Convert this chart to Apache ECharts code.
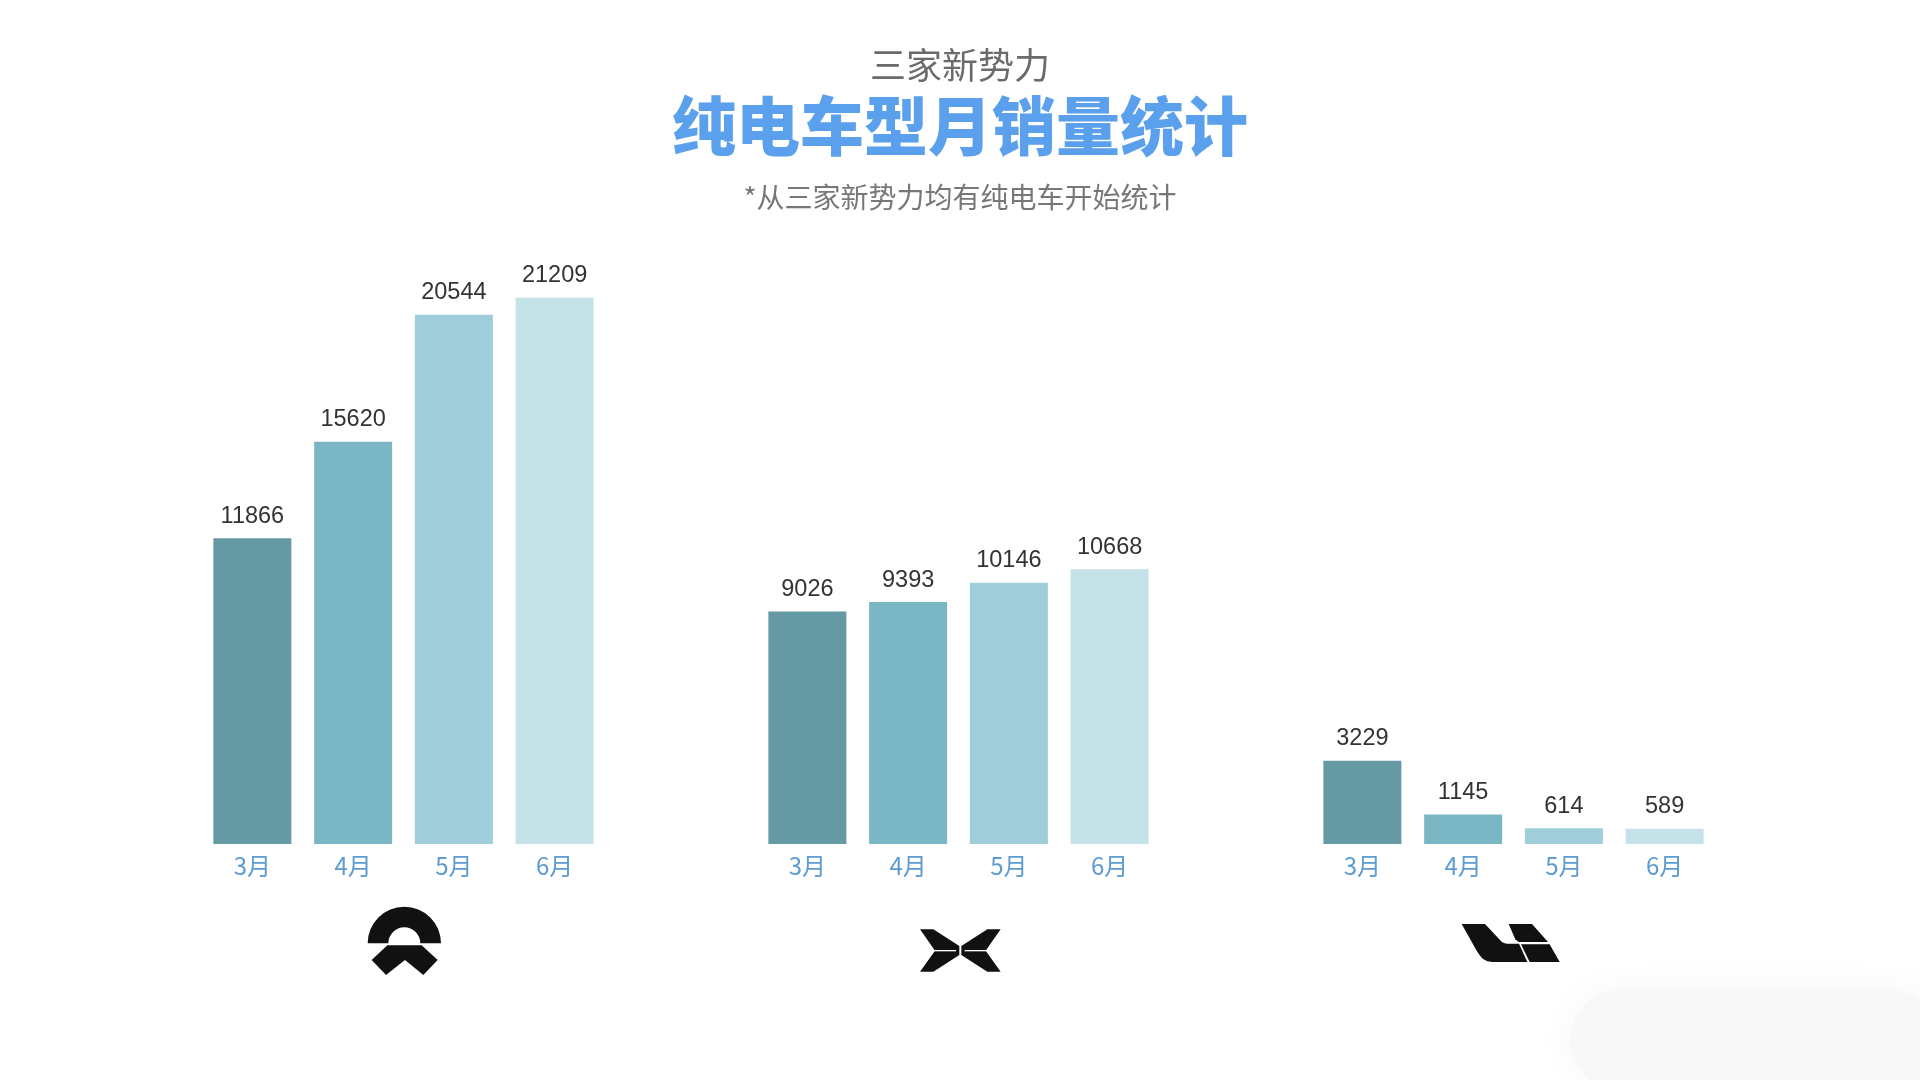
<!DOCTYPE html>
<html>
<head>
<meta charset="utf-8">
<style>
html,body{margin:0;padding:0;background:#fff;}
#c{width:1920px;height:1080px;}
</style>
<script src="https://cdn.jsdelivr.net/npm/echarts@6/dist/echarts.min.js"></script>
</head>
<body>
<div id="c"></div>
<script>
// ---- data ----
const months = ['3月', '4月', '5月', '6月'];
const brands = ['蔚来', '小鹏', '理想'];
const nioSales = [11866, 15620, 20544, 21209];
const xpengSales = [9026, 9393, 10146, 10668];
const liSales = [3229, 1145, 614, 589];
const titleTop = '三家新势力';
const titleMain = '纯电车型月销量统计';
const titleNote = '*从三家新势力均有纯电车开始统计';

const groups = [nioSales, xpengSales, liSales];
const barColors = ['#6599a4', '#7ab6c4', '#9fcdd9', '#c4e2e8'];
const gridLefts = [202, 757, 1312];

const chart = echarts.init(document.getElementById('c'), null, {renderer: 'canvas'});

const grids = gridLefts.map(l => ({left: l, width: 403, top: 200, height: 644}));
const xAxes = groups.map((g, i) => ({
  type: 'category', gridIndex: i, data: months,
  axisLine: {show: false}, axisTick: {show: false},
  axisLabel: {color: '#5d9bd3', fontSize: 24, margin: 10, fontFamily: 'Noto Sans CJK SC'}
}));
const yAxes = groups.map((g, i) => ({
  type: 'value', gridIndex: i, min: 0, max: 25000, show: false, splitLine: {show: false}
}));
const series = groups.map((g, i) => ({
  type: 'bar', name: brands[i], xAxisIndex: i, yAxisIndex: i,
  data: g.map((v, j) => ({value: v, itemStyle: {color: barColors[j]}})),
  barWidth: 78,
  label: {show: true, position: 'top', distance: 10, color: '#333', fontSize: 23.5,
          fontFamily: 'Liberation Sans, Arial'}
}));

// logos (decorative shapes), drawn in a 3x local frame
const nioLogo = {
  type: 'group', x: 340, y: 880, scaleX: 1/3, scaleY: 1/3,
  children: [
    {type: 'sector', shape: {cx: 193, cy: 190, r0: 48, r: 110, startAngle: Math.PI, endAngle: 2 * Math.PI, clockwise: true},
     style: {fill: '#111'}},
    {type: 'polygon', shape: {points: [[142,196],[95,240],[138,285],[195,240],[250,285],[293,240],[245,196]]},
     style: {fill: '#111'}}
  ]
};
const xLeft = [[60,88],[100,88],[178,138],[178,165],[100,215],[60,215],[105,152]];
const xRight = xLeft.map(p => [362 - p[0], p[1]]);
const xpengLogo = {
  type: 'group', x: 900, y: 900, scaleX: 1/3, scaleY: 1/3,
  children: [
    {type: 'polygon', shape: {points: xLeft}, style: {fill: '#111'}},
    {type: 'polygon', shape: {points: xRight}, style: {fill: '#111'}},
    {type: 'line', shape: {x1: 103, y1: 152, x2: 168, y2: 152}, style: {stroke: '#fff', lineWidth: 4}},
    {type: 'line', shape: {x1: 259, y1: 152, x2: 194, y2: 152}, style: {stroke: '#fff', lineWidth: 4}}
  ]
};
const liL = [[35,72],[105,72],[150,120],[156,126],[164,130],[172,131],[207,131],[232,186],[128,186],[112,184],[98,176],[88,164],[80,152]];
const liUp = [[176,72],[246,72],[294,126],[206,126],[196,118]];
const liLow = [[213,133],[299,133],[329,186],[239,186]];
const liLogo = {
  type: 'group', x: 1450, y: 900, scaleX: 1/3, scaleY: 1/3,
  children: [
    {type: 'polygon', shape: {points: liL}, style: {fill: '#111'}},
    {type: 'polygon', shape: {points: liUp}, style: {fill: '#111'}},
    {type: 'polygon', shape: {points: liLow}, style: {fill: '#111'}}
  ]
};

const option = {
  backgroundColor: '#ffffff',
  animation: false,
  title: [
    {text: titleTop, left: 'center', top: 42,
     textStyle: {color: '#6b6b6b', fontSize: 36, fontWeight: 'normal', fontFamily: 'Noto Sans CJK SC'}},
    {text: titleMain, left: 'center', top: 89,
     textStyle: {color: '#5aa0ec', fontSize: 64, fontWeight: 900, fontFamily: 'Noto Sans CJK SC'}},
    {text: titleNote, left: 'center', top: 178,
     textStyle: {color: '#777', fontSize: 28, fontWeight: 'normal', fontFamily: 'Noto Sans CJK SC'}}
  ],
  grid: grids,
  xAxis: xAxes,
  yAxis: yAxes,
  series: series,
  graphic: [
    {type: 'rect', shape: {x: 1570, y: 990, width: 370, height: 100, r: 50},
     style: {fill: '#f8f8f8', shadowBlur: 40, shadowColor: 'rgba(0,0,0,0.04)'}, z: -1},
    nioLogo, xpengLogo, liLogo
  ]
};
chart.setOption(option);
</script>
</body>
</html>
